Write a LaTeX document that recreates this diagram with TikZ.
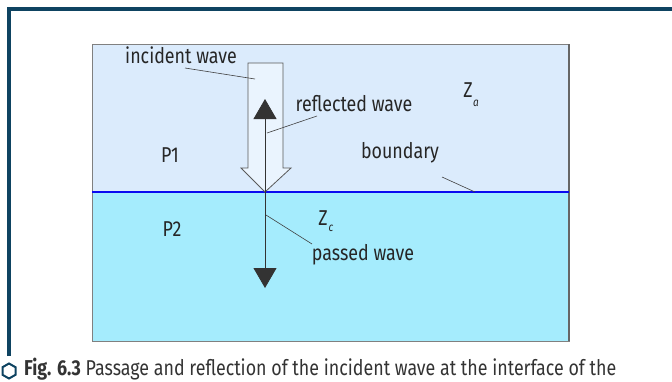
\documentclass[tikz,border=0pt]{standalone}
\usepackage{fontspec}
\setmainfont{Fira Sans}[FakeStretch=0.83]
\usepackage{tikz}
\usetikzlibrary{arrows.meta, positioning}

\definecolor{framecol}{HTML}{0E4361}
\definecolor{upper}{HTML}{DBEBFC}
\definecolor{lower}{HTML}{A5ECFD}
\definecolor{hollow}{HTML}{EAF4FE}
\definecolor{bndcol}{HTML}{0A0AF0}

\begin{document}
\begin{tikzpicture}[x=1pt,y=-1pt]

\tikzset{label/.style = {font=\fontsize{21.5}{22}\selectfont, text=black!85, inner sep=0pt}}
\tikzset{subscr/.style = {label, font=\fontsize{12}{13}\selectfont\itshape}}
\tikzset{leader/.style = {draw=black!75, line width=0.6pt}}
\tikzset{wave/.style = {draw=black!80, line width=0.8pt, -{Triangle[width=23pt,length=20pt]}}}
\useasboundingbox (0,0) rectangle (672,381);
% page frame
\draw[framecol, line width=4pt] (9,356) -- (9,9) -- (680,9);
% media
\fill[upper] (92,44) rectangle (569,192);
\fill[lower] (92,192) rectangle (569,341);
\draw[black!50, line width=1pt] (92,44) rectangle (569,341);
\draw[black!60, line width=2pt] (569,44) -- (569,341);
\draw[bndcol, line width=2pt] (92,192) -- (569,192);
% incident wave
\draw[fill=hollow, draw=black!65, line width=0.8pt]
  (248,63) -- (283,63) -- (283,168) -- (291,168) -- (265,192)
  -- (241,168) -- (248,168) -- cycle;
% points
\coordinate (hit) at (265,192);
\coordinate (refl) at (265,99);
\coordinate (pass) at (265,288);
\draw[wave] (hit) -- (refl);
\draw[wave] (hit) -- (pass);
% labels
\node[label] (inc) at (181,55) {incident wave};
\node[label] (ref) at (354,104) {reflected wave};
\node[label] (bnd) at (400,153) {boundary};
\node[label] (pw) at (363,255) {passed wave};
\node[label] (p1) at (170,155) {P1};
\node[label] (p2) at (172,229) {P2};
\node[label] (za) at (468,90) {Z};
\node[subscr] (zasub) at (476,103) {a};
\node[label] (zc) at (323,218) {Z};
\node[subscr] (zcsub) at (331,228) {c};
% leaders
\coordinate (incA) at (185,68);
\coordinate (incB) at (255,79);
\coordinate (refA) at (317,116);
\coordinate (refB) at (267,133);
\coordinate (bndA) at (442,177);
\coordinate (bndB) at (475,192);
\coordinate (pwA) at (266,215);
\coordinate (pwB) at (312,244);
\path[leader] (incA) -- (incB);
\path[leader] (refA) -- (refB);
\path[leader] (bndA) -- (bndB);
\path[leader] (pwA) -- (pwB);
% caption
\draw[framecol, line width=2pt] (9,363.5) -- (15.5,367.2) -- (15.5,374.8) -- (9,378.5)
  -- (2.5,374.8) -- (2.5,367.2) -- cycle;
\node[label, anchor=base west, text=black!80] (cap) at (24,375.5)
  {\textbf{Fig. 6.3} Passage and reflection of the incident wave at the interface of the};
\end{tikzpicture}
\end{document}
